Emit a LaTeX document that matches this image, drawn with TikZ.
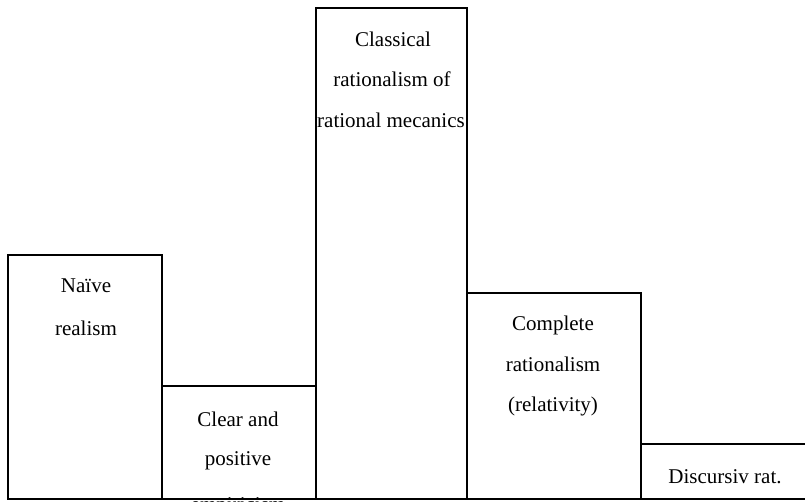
\documentclass[tikz,border=0pt]{standalone}
\usepackage{fontspec}
\setmainfont{Liberation Serif}
\begin{document}
\begin{tikzpicture}[x=1pt,y=1pt,
  barbox/.style={draw=black, line width=1.5pt, fill=white},
  lbl/.style={anchor=base, inner sep=0pt, font=\fontsize{21}{24}\selectfont, text=black}]
\useasboundingbox (0,0) rectangle (805,501);
\clip (0,0) rectangle (805,501);
% bars
\draw[barbox] (8,2) rectangle (162,246);
\draw[barbox] (162,2) rectangle (316,115);
\draw[barbox] (316,2) rectangle (467,493);
\draw[barbox] (467,2) rectangle (641,208);
\draw[barbox] (641,2) rectangle (812,57);
% labels
\node[lbl] (a1) at (86,208) {Naïve};
\node[lbl] (a2) at (86,166) {realism};
\node[lbl] (b1) at (238,75) {Clear and};
\node[lbl] (b2) at (238,36) {positive};
\node[lbl] (b3) at (238,-10) {empiricism};
\node[lbl] (c1) at (393,454) {Classical};
\node[lbl] (c2) at (392,414) {rationalism of};
\node[lbl] (c3) at (391,373) {rational mecanics};
\node[lbl] (d1) at (553,171) {Complete};
\node[lbl] (d2) at (553,130) {rationalism};
\node[lbl] (d3) at (553,90) {(relativity)};
\node[lbl] (e1) at (725,18) {Discursiv rat.};
% baseline
\draw[line width=1.5pt] (8,2) -- (812,2);
\end{tikzpicture}
\end{document}
